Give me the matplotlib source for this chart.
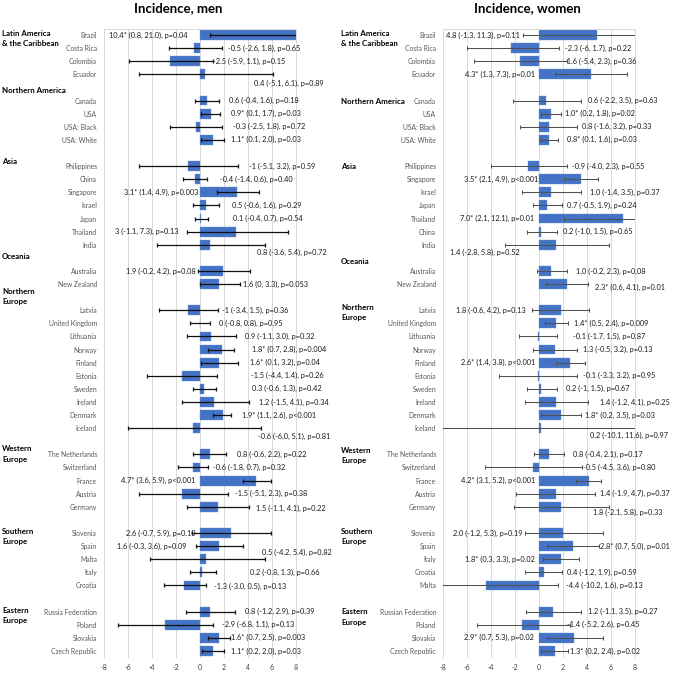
import matplotlib
matplotlib.use("Agg")
import matplotlib.pyplot as plt
import matplotlib.transforms as mtransforms
import numpy as np

plt.rcParams['font.family'] = ['Lato', 'DejaVu Sans']
plt.rcParams['axes.unicode_minus'] = False

# ---------------- data ----------------
groups_men = [
    ("Latin America\n& the Caribbean", ["Brazil", "Costa Rica", "Colombia", "Ecuador"]),
    ("Northern America", ["Canada", "USA", "USA: Black", "USA: White"]),
    ("Asia", ["Philippines", "China", "Singapore", "Israel", "Japan", "Thailand", "India"]),
    ("Oceania", ["Australia", "New Zealand"]),
    ("Northern\nEurope", ["Latvia", "United Kingdom", "Lithuania", "Norway", "Finland", "Estonia",
                          "Sweden", "Ireland", "Denmark", "Iceland"]),
    ("Western\nEurope", ["The Netherlands", "Switzerland", "France", "Austria", "Germany"]),
    ("Southern\nEurope", ["Slovenia", "Spain", "Malta", "Italy", "Croatia"]),
    ("Eastern\nEurope", ["Russia Federation", "Poland", "Slovakia", "Czech Republic"]),
]
men_est = [10.4, -0.5, -2.5, 0.4,
           0.6, 0.9, -0.3, 1.1,
           -1.0, -0.4, 3.1, 0.5, 0.1, 3.0, 0.8,
           1.9, 1.6,
           -1.0, 0.0, 0.9, 1.8, 1.6, -1.5, 0.3, 1.2, 1.9, -0.6,
           0.8, -0.6, 4.7, -1.5, 1.5,
           2.6, 1.6, 0.5, 0.2, -1.3,
           0.8, -2.9, 1.6, 1.1]
men_lo = [0.8, -2.6, -5.9, -5.1,
          -0.4, 0.1, -2.5, 0.1,
          -5.1, -1.4, 1.4, -0.6, -0.4, -1.1, -3.6,
          -0.2, 0.0,
          -3.4, -0.8, -1.1, 0.7, 0.1, -4.4, -0.6, -1.5, 1.1, -6.0,
          -0.6, -1.8, 3.6, -5.1, -1.1,
          -0.7, -0.3, -4.2, -0.8, -3.0,
          -1.2, -6.8, 0.7, 0.2]
men_hi = [21.0, 1.8, 1.1, 6.1,
          1.6, 1.7, 1.8, 2.0,
          3.2, 0.6, 4.9, 1.6, 0.7, 7.3, 5.4,
          4.2, 3.3,
          1.5, 0.8, 3.0, 2.8, 3.2, 1.4, 1.3, 4.1, 2.6, 5.1,
          2.2, 0.7, 5.9, 2.3, 4.1,
          5.9, 3.6, 5.4, 1.3, 0.5,
          2.9, 1.1, 2.5, 2.0]
men_labels = [
    "10.4* (0.8, 21.0), p=0.04", "-0.5 (-2.6, 1.8), p=0.65", "-2.5 (-5.9, 1.1), p=0.15",
    "0.4 (-5.1, 6.1), p=0.89",
    "0.6 (-0.4, 1.6), p=0.18", "0.9* (0.1, 1.7), p=0.03", "-0.3 (-2.5, 1.8), p=0.72",
    "1.1* (0.1, 2.0), p=0.03",
    "-1 (-5.1, 3.2), p=0.59", "-0.4 (-1.4, 0.6), p=0.40", "3.1* (1.4, 4.9), p=0.003",
    "0.5 (-0.6, 1.6), p=0.29", "0.1 (-0.4, 0.7), p=0.54", "3 (-1.1, 7.3), p=0.13",
    "0.8 (-3.6, 5.4), p=0.72",
    "1.9 (-0.2, 4.2), p=0.08", "1.6 (0, 3.3), p=0.053",
    "-1 (-3.4, 1.5), p=0.36", "0 (-0.8, 0.8), p=0.95", "0.9 (-1.1, 3.0), p=0.32",
    "1.8* (0.7, 2.8), p=0.004", "1.6* (0.1, 3.2), p=0.04", "-1.5 (-4.4, 1.4), p=0.26",
    "0.3 (-0.6, 1.3), p=0.42", "1.2 (-1.5, 4.1), p=0.34", "1.9* (1.1, 2.6), p<0.001",
    "-0.6 (-6.0, 5.1), p=0.81",
    "0.8 (-0.6, 2.2), p=0.22", "-0.6 (-1.8, 0.7), p=0.32", "4.7* (3.6, 5.9), p<0.001",
    "-1.5 (-5.1, 2.3), p=0.38", "1.5 (-1.1, 4.1), p=0.22",
    "2.6 (-0.7, 5.9), p=0.10", "1.6 (-0.3, 3.6), p=0.09", "0.5 (-4.2, 5.4), p=0.82",
    "0.2 (-0.8, 1.3), p=0.66", "-1.3 (-3.0, 0.5), p=0.13",
    "0.8 (-1.2, 2.9), p=0.39", "-2.9 (-6.8, 1.1), p=0.13", "1.6* (0.7, 2.5), p=0.003",
    "1.1* (0.2, 2.0), p=0.03",
]

groups_women = [
    ("Latin America\n& the Caribbean", ["Brazil", "Costa Rica", "Colombia", "Ecuador"]),
    ("Northern America", ["Canada", "USA", "USA: Black", "USA: White"]),
    ("Asia", ["Philippines", "Singapore", "Israel", "Japan", "Thailand", "China", "India"]),
    ("Oceania", ["Australia", "New Zealand"]),
    ("Northern\nEurope", ["Latvia", "United Kingdom", "Lithuania", "Norway", "Finland", "Estonia",
                          "Sweden", "Ireland", "Denmark", "Iceland"]),
    ("Western\nEurope", ["The Netherlands", "Switzerland", "France", "Austria", "Germany"]),
    ("Southern\nEurope", ["Slovenia", "Spain", "Italy", "Croatia", "Malta"]),
    ("Eastern\nEurope", ["Russian Federation", "Poland", "Slovakia", "Czech Republic"]),
]
women_est = [4.8, -2.3, -1.6, 4.3,
             0.6, 1.0, 0.8, 0.8,
             -0.9, 3.5, 1.0, 0.7, 7.0, 0.2, 1.4,
             1.0, 2.3,
             1.8, 1.4, -0.1, 1.3, 2.6, -0.1, 0.2, 1.4, 1.8, 0.2,
             0.8, -0.5, 4.2, 1.4, 1.8,
             2.0, 2.8, 1.8, 0.4, -4.4,
             1.2, -1.4, 2.9, 1.3]
women_lo = [-1.3, -6.0, -5.4, 1.3,
            -2.2, 0.2, -1.6, 0.1,
            -4.0, 2.1, -1.4, -0.5, 2.1, -1.0, -2.8,
            -0.2, 0.6,
            -0.6, 0.5, -1.7, -0.5, 1.4, -3.3, -1.0, -1.2, 0.2, -10.1,
            -0.4, -4.5, 3.1, -1.9, -2.1,
            -1.2, 0.7, 0.3, -1.2, -10.2,
            -1.1, -5.2, 0.7, 0.2]
women_hi = [11.3, 1.7, 2.3, 7.3,
            3.5, 1.8, 3.2, 1.6,
            2.3, 4.9, 3.5, 1.9, 12.1, 1.5, 5.8,
            2.3, 4.1,
            4.2, 2.4, 1.5, 3.2, 3.8, 3.2, 1.5, 4.1, 3.5, 11.6,
            2.1, 3.6, 5.2, 4.7, 5.8,
            5.3, 5.0, 3.3, 1.9, 1.6,
            3.5, 2.6, 5.3, 2.4]
women_labels = [
    "4.8 (-1.3, 11.3), p=0.11", "-2.3 (-6, 1.7), p=0.22", "-1.6 (-5.4, 2.3), p=0.36",
    "4.3* (1.3, 7.3), p=0.01",
    "0.6 (-2.2, 3.5), p=0.63", "1.0* (0.2, 1.8), p=0.02", "0.8 (-1.6, 3.2), p=0.33",
    "0.8* (0.1, 1.6), p=0.03",
    "-0.9 (-4.0, 2.3), p=0.55", "3.5* (2.1, 4.9), p<0.001", "1.0 (-1.4, 3.5), p=0.37",
    "0.7 (-0.5, 1.9), p=0.24", "7.0* (2.1, 12.1), p=0.01", "0.2 (-1.0, 1.5), p=0.65",
    "1.4 (-2.8, 5.8), p=0.52",
    "1.0 (-0.2, 2.3), p=0.08", "2.3* (0.6, 4.1), p=0.01",
    "1.8 (-0.6, 4.2), p=0.13", "1.4* (0.5, 2.4), p=0.009", "-0.1 (-1.7, 1.5), p=0.87",
    "1.3 (-0.5, 3.2), p=0.13", "2.6* (1.4, 3.8), p<0.001", "-0.1 (-3.3, 3.2), p=0.95",
    "0.2 (-1, 1.5), p=0.67", "1.4 (-1.2, 4.1), p=0.25", "1.8* (0.2, 3.5), p=0.03",
    "0.2 (-10.1, 11.6), p=0.97",
    "0.8 (-0.4, 2.1), p=0.17", "-0.5 (-4.5, 3.6), p=0.80", "4.2* (3.1, 5.2), p<0.001",
    "1.4 (-1.9, 4.7), p=0.37", "1.8 (-2.1, 5.8), p=0.33",
    "2.0 (-1.2, 5.3), p=0.19", "2.8* (0.7, 5.0), p=0.01", "1.8* (0.3, 3.3), p=0.02",
    "0.4 (-1.2, 1.9), p=0.59", "-4.4 (-10.2, 1.6), p=0.13",
    "1.2 (-1.1, 3.5), p=0.27", "-1.4 (-5.2, 2.6), p=0.45", "2.9* (0.7, 5.3), p=0.02",
    "1.3* (0.2, 2.4), p=0.02",
]

x_ticks = [-8, -6, -4, -2, 0, 2, 4, 6, 8]

# ---------------- label layout (side, x in data units, vertical shift in rows) ----------------
men_label_pos = [
    ("L", -1.0, 0), ("R", 2.35, 0), ("R", 1.1, 0), ("R", 4.5, 0.7),
    ("R", 2.4, 0), ("R", 2.6, 0), ("R", 2.75, 0), ("R", 2.6, 0),
    ("R", 4.1, 0), ("R", 1.65, 0), ("L", -0.15, 0), ("R", 2.65, 0), ("R", 2.75, 0),
    ("L", -1.8, 0), ("R", 4.75, 0.55),
    ("L", -0.4, 0), ("R", 3.6, 0),
    ("R", 1.85, 0), ("R", 1.6, 0), ("R", 3.75, 0), ("R", 4.35, 0), ("R", 4.15, 0),
    ("R", 4.25, 0), ("R", 4.35, 0), ("R", 4.9, 0), ("R", 3.5, 0), ("R", 4.85, 0.6),
    ("R", 3.1, 0), ("R", 1.1, 0), ("L", -0.4, 0), ("R", 2.9, 0), ("R", 4.65, 0.1),
    ("L", -0.35, 0), ("L", -1.1, 0), ("R", 5.15, -0.55), ("R", 4.15, 0), ("R", 1.15, 0.1),
    ("R", 3.75, 0), ("R", 1.85, 0), ("R", 2.6, 0), ("R", 2.6, 0),
]
women_label_pos = [
    ("L", -1.6, 0), ("R", 2.15, 0), ("R", 2.1, 0), ("L", -0.35, 0),
    ("R", 4.1, 0), ("R", 2.15, 0), ("R", 3.6, 0), ("R", 2.35, 0),
    ("R", 2.75, 0), ("L", -0.1, 0), ("R", 4.25, 0), ("R", 2.35, 0), ("L", -0.4, 0),
    ("R", 2.0, 0), ("L", -1.6, 0.55),
    ("R", 3.1, 0), ("R", 4.65, 0.25),
    ("L", -1.1, 0), ("R", 2.9, 0), ("R", 2.8, 0), ("R", 3.65, 0), ("L", -0.35, 0),
    ("R", 3.65, 0), ("R", 2.25, 0), ("R", 5.1, 0), ("R", 3.85, 0), ("R", 4.25, 0.55),
    ("R", 2.85, 0), ("R", 3.65, 0), ("L", -0.35, 0), ("R", 5.1, 0), ("R", 4.5, 0.45),
    ("L", -1.4, 0), ("R", 5.1, 0), ("L", -0.35, 0), ("R", 2.35, 0), ("R", 2.25, 0),
    ("R", 4.1, 0), ("R", 2.35, 0), ("L", -0.4, 0), ("R", 2.6, 0),
]
# vertical shift (rows) of each group heading relative to the group's first row
men_gshift = [0.27, -0.76, -0.38, -1.07, -1.03, -0.04, 0.27, 0.27]
women_gshift = [0.27, 0.08, 0.0, -0.69, 0.19, 0.11, 0.27, 0.42]

BAR = "#4472C4"
GRID = "#d9d9d9"


def positions(groups):
    pos, names, group_rows = [], [], []
    r = 0
    for gi, (g, countries) in enumerate(groups):
        if gi > 0:
            r += 1
        group_rows.append(r)
        for c in countries:
            pos.append(r)
            names.append(c)
            r += 1
    return np.array(pos), names, group_rows, r


def panel(fig, rect, groups, est, lo, hi, labels, lpos, title, title_x,
          glabel_x, gshift, ecolor, elw):
    ax = fig.add_axes(rect)
    pos, names, group_rows, nrows = positions(groups)
    est = np.array(est)
    lo = np.array(lo)
    hi = np.array(hi)
    ax.barh(pos, est, height=0.75, color=BAR, edgecolor="#6a96dc", linewidth=0.3, zorder=2)
    ax.errorbar(est, pos, xerr=[est - lo, hi - est], fmt="none", ecolor=ecolor,
                elinewidth=elw, capsize=1.3, capthick=elw, zorder=3)
    ax.set_xlim(-8, 8)
    ax.set_ylim(nrows - 0.5, -0.5)
    ax.set_xticks(x_ticks)
    ax.set_xticklabels([str(t) for t in x_ticks], fontsize=5, color="#404040")
    ax.set_yticks(pos)
    ax.set_yticklabels(names, fontsize=4.9, color="#595959")
    ax.tick_params(axis="both", length=0)
    ax.tick_params(axis="y", pad=5)
    ax.tick_params(axis="x", pad=5)
    ax.xaxis.grid(True, color=GRID, linewidth=0.7, zorder=0)
    ax.set_axisbelow(True)
    for s in ax.spines.values():
        s.set_color(GRID)
        s.set_linewidth(0.7)
    ax.spines["bottom"].set_visible(False)
    for (side, xx, dy), p, txt in zip(lpos, pos, labels):
        ha = "right" if side == "L" else "left"
        ax.text(xx, p + dy, txt, ha=ha, va="center", fontsize=5.3, color="#1a1a1a",
                clip_on=False, zorder=4)
    # group headings
    trans = mtransforms.blended_transform_factory(fig.transFigure, ax.transData)
    for (g, _), gr, sh in zip(groups, group_rows, gshift):
        ax.text(glabel_x, gr + sh, g, transform=trans, fontsize=5.7, fontweight="bold",
                ha="left", va="center", linespacing=1.55, clip_on=False)
    fig.text(title_x, 0.988, title, ha="center", va="center", fontsize=9.5,
             fontweight="bold")
    return ax


fig = plt.figure(figsize=(6.75, 6.75), dpi=100)
bottom = 1 - 657.5 / 675
height = 629 / 675
width = 192 / 675

panel(fig, [104 / 675, bottom, width, height], groups_men, men_est, men_lo, men_hi,
      men_labels, men_label_pos, "Incidence, men", 178 / 675, 2 / 675, men_gshift,
      "#111111", 0.9)
panel(fig, [443 / 675, bottom, width, height], groups_women, women_est, women_lo, women_hi,
      women_labels, women_label_pos, "Incidence, women", 527 / 675, 341 / 675, women_gshift,
      "#505050", 0.75)

fig.savefig("out.png", dpi=100)
